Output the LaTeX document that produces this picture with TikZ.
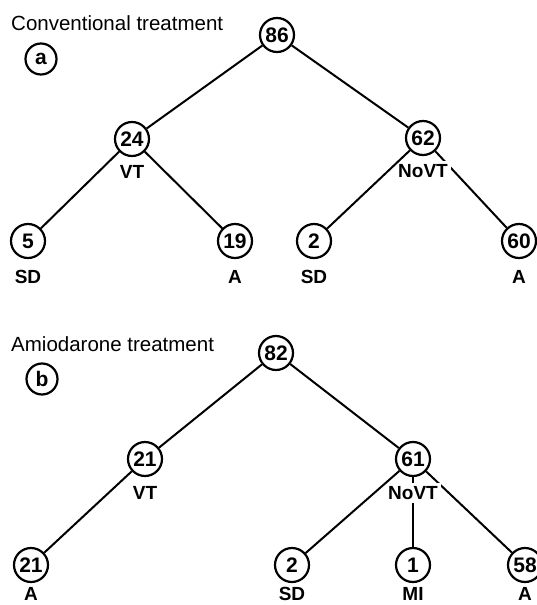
\documentclass[tikz,border=0pt]{standalone}
\usepackage{fontspec}
\setmainfont{Liberation Sans}
\usetikzlibrary{positioning}

\begin{document}
\begin{tikzpicture}[%
    x=1pt,
    y=-1pt,
    count/.style={%
      draw,
      circle,
      line width=2.2pt,
      minimum size=34pt,
      inner sep=0pt,
      font=\fontsize{21}{21}\selectfont\bfseries,
    },
    tag/.style={%
      fill=white,
      inner sep=3pt,
      font=\fontsize{19}{19}\selectfont\bfseries,
    },
    branch/.style={line width=2pt},
    heading/.style={%
      anchor=west,
      inner sep=0pt,
      font=\fontsize{20.5}{20.5}\selectfont,
    },
  ]
  \useasboundingbox (0,0) rectangle (536,605);

  % (a) conventional treatment
  \node [heading] (conv title) at (11,23) {Conventional treatment};
  \node [count, minimum size=31pt] (conv panel) at (41,59) {a};
  \node [count] (conv) at (277,35) {86};
  \node [count] (conv vt) at (132,139) {24};
  \node [count] (conv novt) at (423,138) {62};
  \node [count] (conv vt sd) at (28,241) {5};
  \node [count] (conv vt a) at (235,241) {19};
  \node [count] (conv novt sd) at (314,241) {2};
  \node [count] (conv novt a) at (519,241) {60};

  \draw [branch] (conv) -- (conv vt);
  \draw [branch] (conv) -- (conv novt);
  \draw [branch] (conv vt) -- (conv vt sd);
  \draw [branch] (conv vt) -- (conv vt a);
  \draw [branch] (conv novt) -- (conv novt a);

  \node [tag, below=5pt of conv vt] (conv vt label) {VT};
  \node [tag, below=5pt of conv novt] (conv novt label) {NoVT};
  \node [tag, below=8pt of conv vt sd] {SD};
  \node [tag, below=8pt of conv vt a] {A};
  \node [tag, below=8pt of conv novt sd] {SD};
  \node [tag, below=8pt of conv novt a] {A};

  \draw [branch] (conv novt) -- (conv novt sd);

  % (b) amiodarone treatment
  \node [heading] (amio title) at (11,344) {Amiodarone treatment};
  \node [count, minimum size=31pt] (amio panel) at (42,379) {b};
  \node [count] (amio) at (276,353) {82};
  \node [count] (amio vt) at (145,459) {21};
  \node [count] (amio novt) at (413,459) {61};
  \node [count] (amio vt a) at (31,565) {21};
  \node [count] (amio novt sd) at (292,565) {2};
  \node [count] (amio novt mi) at (413,565) {1};
  \node [count] (amio novt a) at (525,565) {58};

  \draw [branch] (amio) -- (amio vt);
  \draw [branch] (amio) -- (amio novt);
  \draw [branch] (amio vt) -- (amio vt a);
  \draw [branch] (amio novt) -- (amio novt mi);
  \draw [branch] (amio novt) -- (amio novt a);

  \node [tag, below=6pt of amio vt] (amio vt label) {VT};
  \node [tag, below=6pt of amio novt] (amio novt label) {NoVT};
  \node [tag, below=1pt of amio vt a] {A};
  \node [tag, below=1pt of amio novt sd] {SD};
  \node [tag, below=1pt of amio novt mi] {MI};
  \node [tag, below=1pt of amio novt a] {A};

  \draw [branch] (amio novt) -- (amio novt sd);
\end{tikzpicture}
\end{document}
